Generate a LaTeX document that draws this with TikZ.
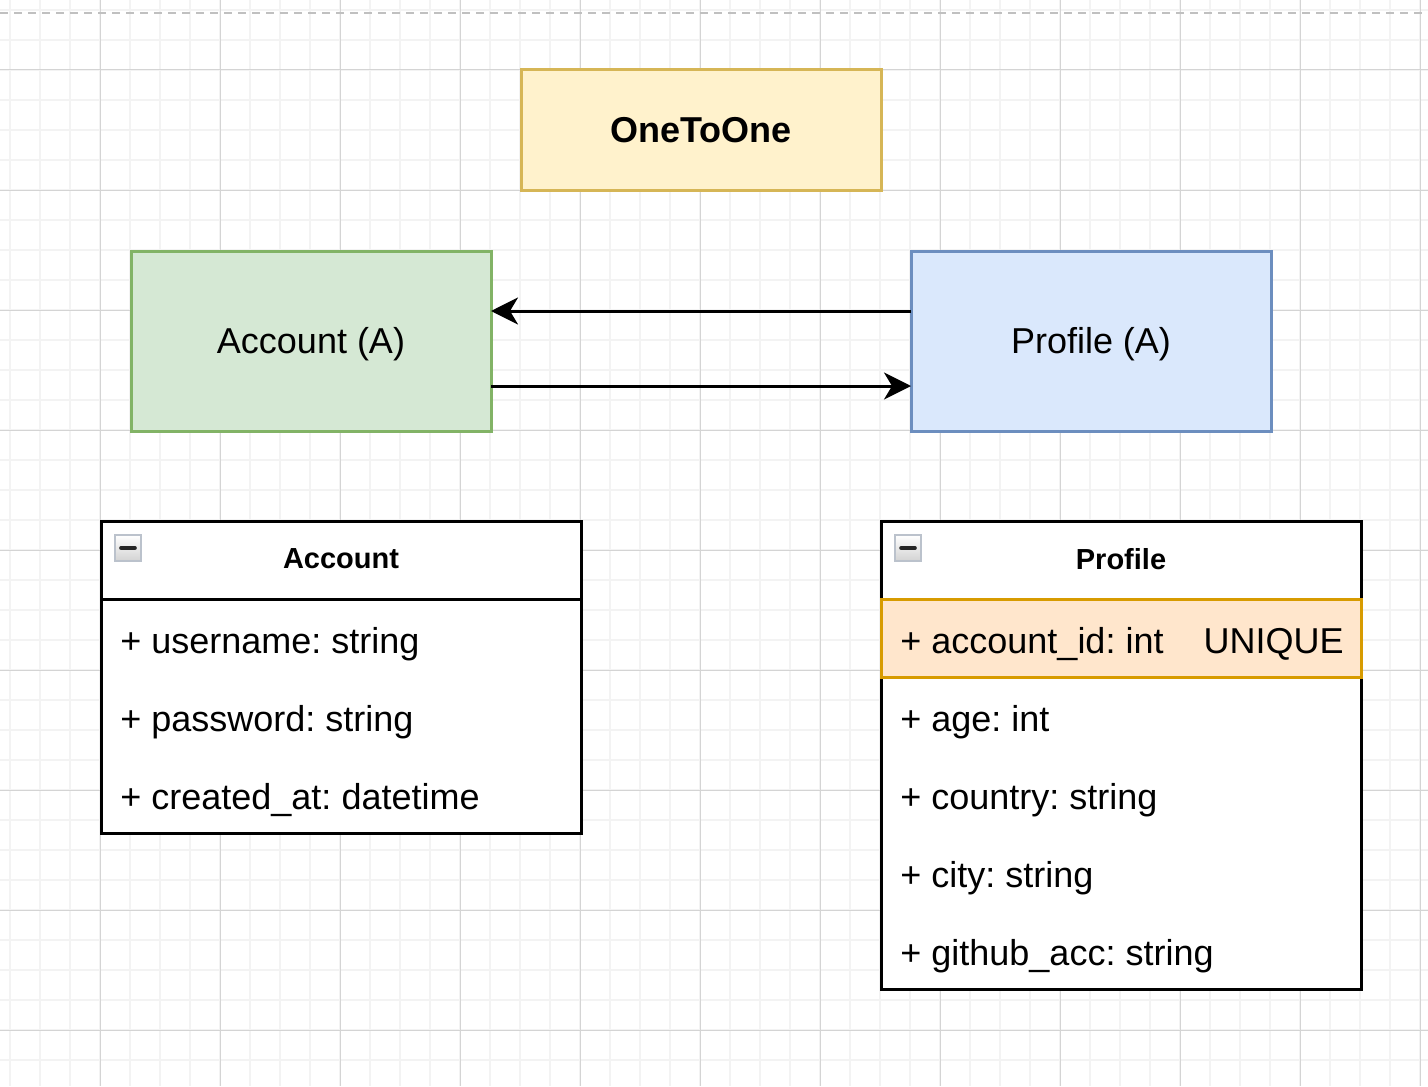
\documentclass[tikz,border=0pt]{standalone}
\usepackage{fontspec}
\setmainfont{Liberation Sans}
\usetikzlibrary{arrows.meta,positioning}
\frenchspacing

\definecolor{notefill}{HTML}{FFF2CC}
\definecolor{notedraw}{HTML}{D6B656}
\definecolor{accfill}{HTML}{D5E8D4}
\definecolor{accdraw}{HTML}{82B366}
\definecolor{profill}{HTML}{DAE8FC}
\definecolor{prodraw}{HTML}{6C8EBF}
\definecolor{keyfill}{HTML}{FFE6CC}
\definecolor{keydraw}{HTML}{D79B00}
\definecolor{gridminor}{HTML}{F3F3F3}
\definecolor{gridmajor}{HTML}{D4D4D4}
\definecolor{pagedash}{HTML}{C0C0C0}

\tikzset{
  entity/.style={draw, line width=1.5pt, inner sep=0pt, outer sep=0pt,
    minimum width=180pt, minimum height=90pt, text height=13.1pt, text depth=0.8pt,
    font=\fontsize{18}{22}\selectfont},
  classbox/.style={draw=black, line width=1.5pt, inner sep=0pt, outer sep=0pt,
    minimum width=240pt, fill=white},
  field/.style={anchor=west, inner sep=0pt, font=\fontsize{18}{22}\selectfont},
  ctitle/.style={inner sep=0pt, font=\bfseries\fontsize{14.5}{18}\selectfont},
  link/.style={line width=1.5pt, -{Stealth[length=13.5pt, width=13.5pt, inset=4pt]}},
}

\newcommand{\foldicon}[2]{%
  \shade[top color=white, bottom color=gray!35, draw=prodraw!40!gray!50, line width=0.6pt]
    (#1,#2) rectangle ++(26,26);
  \draw[line width=1.8pt, black!85, line cap=round] (#1+6,#2+13) -- (#1+20,#2+13);
}

\begin{document}
\begin{tikzpicture}[x=0.5pt, y=-0.5pt]
\useasboundingbox (0,0) rectangle (1428,1086);

%background grid
\foreach \gx in {10,40,...,1420} \draw[gridminor, line width=1pt] (\gx,0) -- (\gx,1086);
\foreach \gy in {10,40,...,1080} \draw[gridminor, line width=1pt] (0,\gy) -- (1428,\gy);
\foreach \gx in {100,220,...,1420} \draw[gridmajor, line width=0.5pt] (\gx,0) -- (\gx,1086);
\foreach \gy in {70,190,...,1030} \draw[gridmajor, line width=0.5pt] (0,\gy) -- (1428,\gy);
\draw[pagedash, line width=1pt, dash pattern=on 4pt off 3pt] (0,13) -- (1428,13);

% title and the two models
\node[entity, draw=notedraw, fill=notefill, minimum height=60pt, text height=, text depth=,
  font=\bfseries\fontsize{18}{22}\selectfont] (title) at (701,130) {OneToOne};
\node[entity, draw=accdraw, fill=accfill] (acc) at (311,341) {Account (A)};
\node[entity, draw=prodraw, fill=profill] (pro) at (1091,341) {Profile (A)};

\draw[link] ([yshift=15pt]pro.west) -- ([yshift=15pt]acc.east);
\draw[link] ([yshift=-22.5pt]acc.east) -- ([yshift=-22.5pt]pro.west);

% Account table
\node[classbox, minimum height=39pt] (acchead) at (341,560) {};
\node[classbox, minimum height=117pt] (accbody) at (341,716) {};
\foldicon{115}{535}
\node[ctitle] (acctitle) at (341,559) {Account};
\node[field] (accf1) at (120,644) {+ username: string};
\node[field] (accf2) at (120,722) {+ password: string};
\node[field] (accf3) at (120,800) {+ created\_at: datetime};

% Profile table
\node[classbox, minimum height=39pt] (prohead) at (1121,560) {};
\node[classbox, minimum height=195pt] (probody) at (1121,794) {};
\node[classbox, draw=keydraw, fill=keyfill, minimum height=39pt] (prokey) at (1121,638) {};
\foldicon{895}{535}
\node[ctitle] (protitle) at (1121,559) {Profile};
\node[field] (prof1) at (900,644) {+ account\_id: int\hspace{20pt}UNIQUE};
\node[field] (prof2) at (900,722) {+ age: int};
\node[field] (prof3) at (900,800) {+ country: string};
\node[field] (prof4) at (900,878) {+ city: string};
\node[field] (prof5) at (900,956) {+ github\_acc: string};
\end{tikzpicture}
\end{document}
